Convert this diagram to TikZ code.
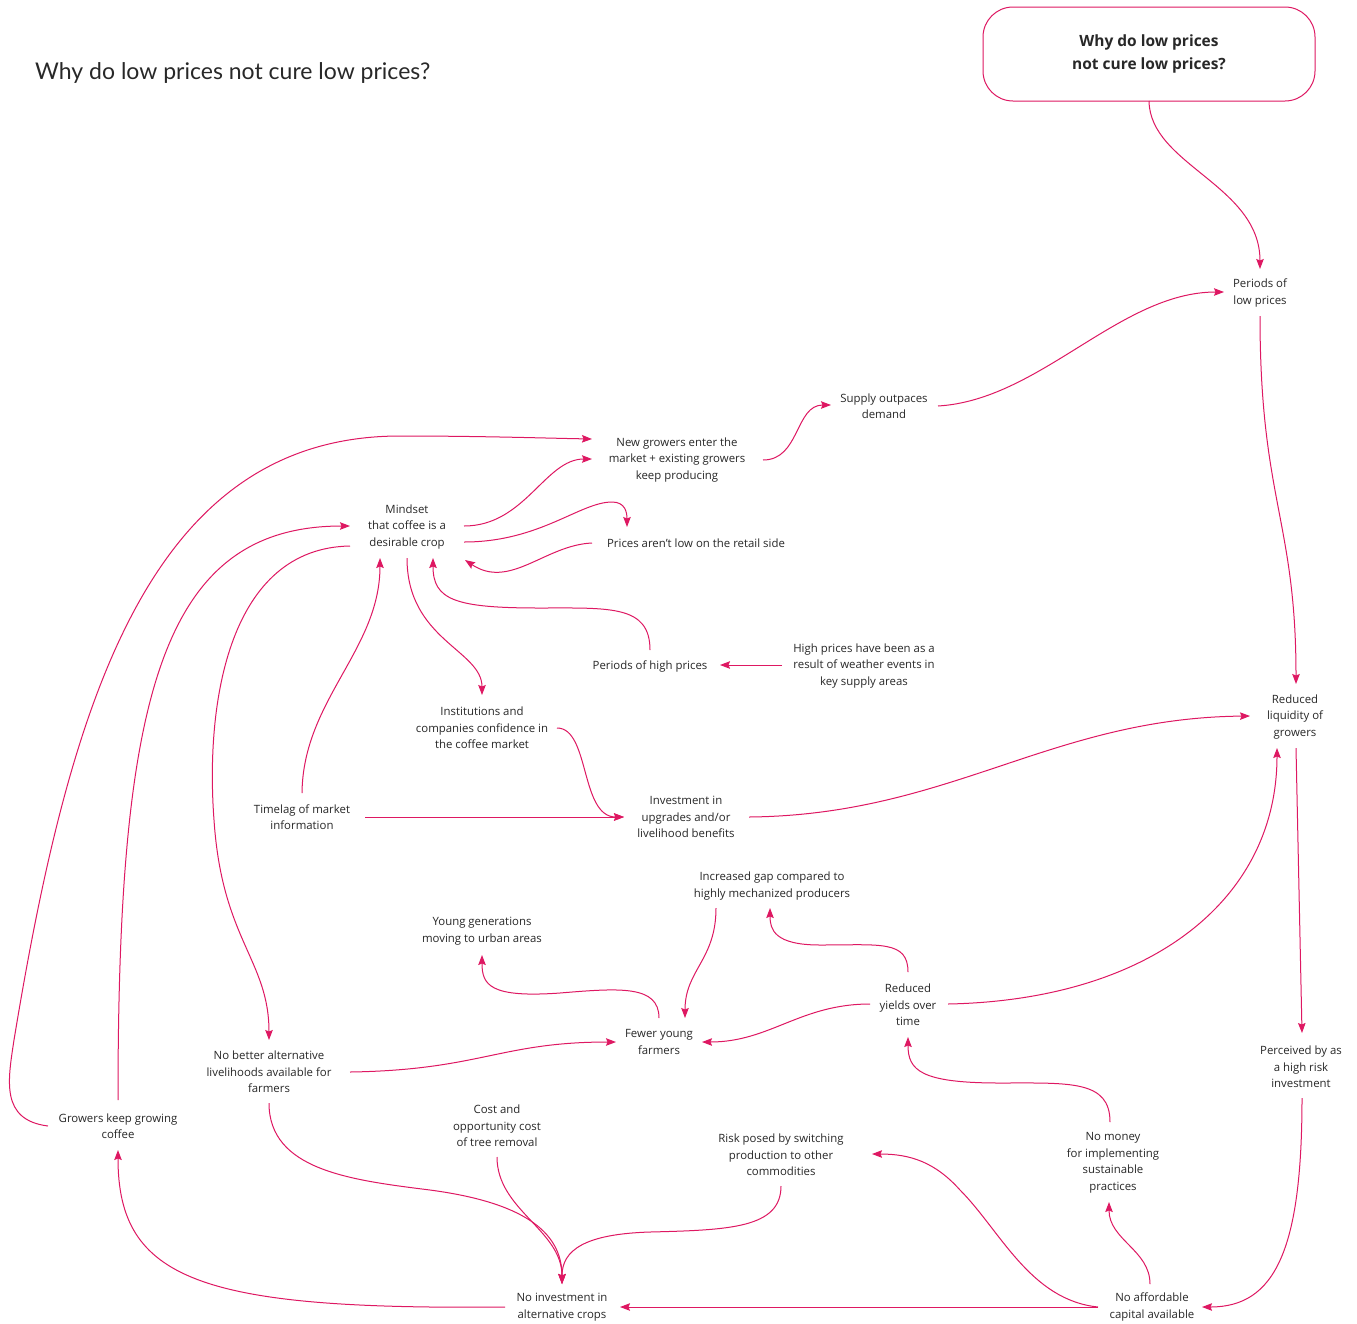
\documentclass[tikz,border=0pt]{standalone}
\usepackage{fontspec}
\setmainfont{Open Sans}
\newfontfamily\titlefont{Lato}
\usetikzlibrary{arrows.meta,calc}
\definecolor{mag}{RGB}{222,24,98}
\definecolor{txt}{RGB}{40,40,40}
\tikzset{
  lbl/.style={align=center,inner sep=0pt,text=txt,font=\fontsize{11.4}{16.5}\selectfont},
  conn/.style={draw=mag,line width=1pt,-{Stealth[length=10pt,width=7.5pt,inset=1.5pt]}},
}
\begin{document}
\begin{tikzpicture}[x=1pt,y=-1pt]
\useasboundingbox (0,0) rectangle (1357,1323);
\fill[white] (0,0) rectangle (1357,1323);
% title
\node[anchor=base west,inner sep=0pt,text=txt,font=\titlefont\fontsize{23}{26}\selectfont] (maintitle) at (35,79) {Why do low prices not cure low prices?};
\node[draw=mag,line width=1pt,rounded corners=30pt,minimum width=332pt,minimum height=94pt,align=center,text=txt,font=\bfseries\fontsize{15.5}{23}\selectfont] (title) at (1149,54) {Why do low prices\\ not cure low prices?};
% nodes
\node[lbl] (plow) at (1260,293) {Periods of\\low prices};
\node[lbl] (supply) at (884,406) {Supply outpaces\\demand};
\node[lbl] (newg) at (677,460) {New growers enter the\\market + existing growers\\keep producing};
\node[lbl] (mindset) at (407,527) {Mindset\\that coffee is a\\desirable crop};
\node[lbl] (retail) at (696,543) {Prices aren't low on the retail side};
\node[lbl] (highp) at (650,666) {Periods of high prices};
\node[lbl] (weather) at (864,666) {High prices have been as a\\result of weather events in\\key supply areas};
\node[lbl] (inst) at (482,728) {Institutions and\\companies confidence in\\the coffee market};
\node[lbl] (timelag) at (302,817) {Timelag of market\\information};
\node[lbl] (invest) at (686,817) {Investment in\\upgrades and/or\\livelihood benefits};
\node[lbl] (liq) at (1295,717) {Reduced\\liquidity of\\growers};
\node[lbl] (gap) at (772,886) {Increased gap compared to\\highly mechanized producers};
\node[lbl] (young) at (482,931) {Young generations\\moving to urban areas};
\node[lbl] (yields) at (908,1005) {Reduced\\yields over\\time};
\node[lbl] (fewer) at (659,1042) {Fewer young\\farmers};
\node[lbl] (nobetter) at (269,1072) {No better alternative\\livelihoods available for\\farmers};
\node[lbl] (perceived) at (1301,1067) {Perceived by as\\a high risk\\investment};
\node[lbl] (gkeep) at (118,1126) {Growers keep growing\\coffee};
\node[lbl] (cost) at (497,1126) {Cost and\\opportunity cost\\of tree removal};
\node[lbl] (risk) at (781,1155) {Risk posed by switching\\production to other\\commodities};
\node[lbl] (nomoney) at (1113,1163) {No money\\for implementing\\sustainable\\practices};
\node[lbl] (noinv) at (562,1307) {No investment in\\alternative crops};
\node[lbl] (noaff) at (1152,1307) {No affordable\\capital available};
% connectors
\draw[conn] ($(title)+(0,47)$) .. controls (1150,165) and (1260,185) .. ($(plow)+(0,-24)$);
\draw[conn] ($(supply)+(54,0)$) .. controls (1040,400) and (1120,292) .. ($(plow)+(-36,-1)$);
\draw[conn] ($(newg)+(86,0)$) .. controls (800,460) and (795,405) .. ($(supply)+(-53,-1)$);
\draw[conn] ($(mindset)+(57,-1)$) .. controls (525,526) and (545,459) .. ($(newg)+(-85,-1)$);
\draw[conn] ($(gkeep)+(-70,0)$) .. controls (0,1120) and (8,1080) .. (14,1040) .. controls (70,700) and (150,436) .. (400,436) .. controls (480,436) and (540,438) .. ($(newg)+(-85,-21)$);
\draw[conn] ($(gkeep)+(0,-26)$) .. controls (118,700) and (160,526) .. ($(mindset)+(-57,-1)$);
\draw[conn] ($(mindset)+(-57,19)$) .. controls (230,548) and (205,700) .. (214,820) .. controls (222,940) and (269,960) .. ($(nobetter)+(0,-32)$);
\draw[conn] ($(mindset)+(57,15)$) .. controls (540,542) and (580,502) .. (612,502) .. controls (625,502) and (627,512) .. ($(retail)+(-69,-16)$);
\draw[conn] ($(retail)+(-104,0)$) .. controls (545,545) and (510,590) .. ($(mindset)+(58,33)$);
\draw[conn] ($(highp)+(0,-16)$) .. controls (650,605) and (610,608) .. (540,608) .. controls (455,608) and (433,600) .. ($(mindset)+(26,31)$);
\draw[conn] ($(mindset)+(0,31)$) .. controls (407,640) and (482,650) .. ($(inst)+(0,-33)$);
\draw[conn] ($(timelag)+(0,-24)$) .. controls (303,700) and (380,650) .. ($(mindset)+(-27,31)$);
\draw[conn] ($(weather)+(-82,-1)$) -- ($(highp)+(70,-1)$);
\draw[conn] ($(inst)+(75,0)$) .. controls (590,728) and (580,817) .. ($(invest)+(-62,0)$);
\draw[conn] ($(timelag)+(63,0)$) -- ($(invest)+(-62,0)$);
\draw[conn] ($(invest)+(63,0)$) .. controls (950,815) and (1050,718) .. ($(liq)+(-45,-1)$);
\draw[conn] ($(plow)+(0,23)$) .. controls (1260,500) and (1296,520) .. ($(liq)+(1,-33)$);
\draw[conn] ($(liq)+(1,31)$) -- ($(perceived)+(1,-34)$);
\draw[conn] ($(perceived)+(1,31)$) .. controls (1302,1250) and (1275,1307) .. ($(noaff)+(50,0)$);
\draw[conn] ($(noaff)+(-54,0)$) -- ($(noinv)+(58,0)$);
\draw[conn] ($(noaff)+(-54,0)$) .. controls (1030,1300) and (1000,1230) .. (960,1190) .. controls (935,1162) and (910,1154) .. ($(risk)+(91,-1)$);
\draw[conn] ($(noaff)+(-2,-23)$) .. controls (1150,1250) and (1109,1240) .. ($(nomoney)+(-4,39)$);
\draw[conn] ($(nomoney)+(-3,-41)$) .. controls (1110,1080) and (1070,1083) .. (1000,1083) .. controls (920,1083) and (908,1070) .. ($(yields)+(0,32)$);
\draw[conn] ($(yields)+(-38,-1)$) .. controls (800,1004) and (770,1042) .. ($(fewer)+(43,0)$);
\draw[conn] ($(yields)+(0,-33)$) .. controls (908,940) and (880,945) .. (820,945) .. controls (775,945) and (770,930) .. ($(gap)+(-2,22)$);
\draw[conn] ($(yields)+(40,-1)$) .. controls (1150,1000) and (1277,900) .. ($(liq)+(-18,31)$);
\draw[conn] ($(gap)+(-56,22)$) .. controls (716,960) and (685,970) .. ($(fewer)+(26,-24)$);
\draw[conn] ($(fewer)+(0,-24)$) .. controls (659,985) and (620,988) .. (560,993) .. controls (490,998) and (482,985) .. ($(young)+(0,24)$);
\draw[conn] ($(nobetter)+(81,0)$) .. controls (480,1070) and (500,1042) .. ($(fewer)+(-43,0)$);
\draw[conn] ($(nobetter)+(0,31)$) .. controls (269,1170) and (350,1180) .. (430,1190) .. controls (520,1202) and (562,1230) .. ($(noinv)+(0,-23)$);
\draw[conn] ($(cost)+(0,31)$) .. controls (497,1210) and (562,1230) .. ($(noinv)+(0,-23)$);
\draw[conn] ($(risk)+(0,31)$) .. controls (781,1228) and (730,1230) .. (650,1232) .. controls (585,1234) and (562,1250) .. ($(noinv)+(0,-23)$);
\draw[conn] ($(noinv)+(-57,0)$) .. controls (200,1310) and (118,1280) .. ($(gkeep)+(0,24)$);
\end{tikzpicture}
\end{document}
